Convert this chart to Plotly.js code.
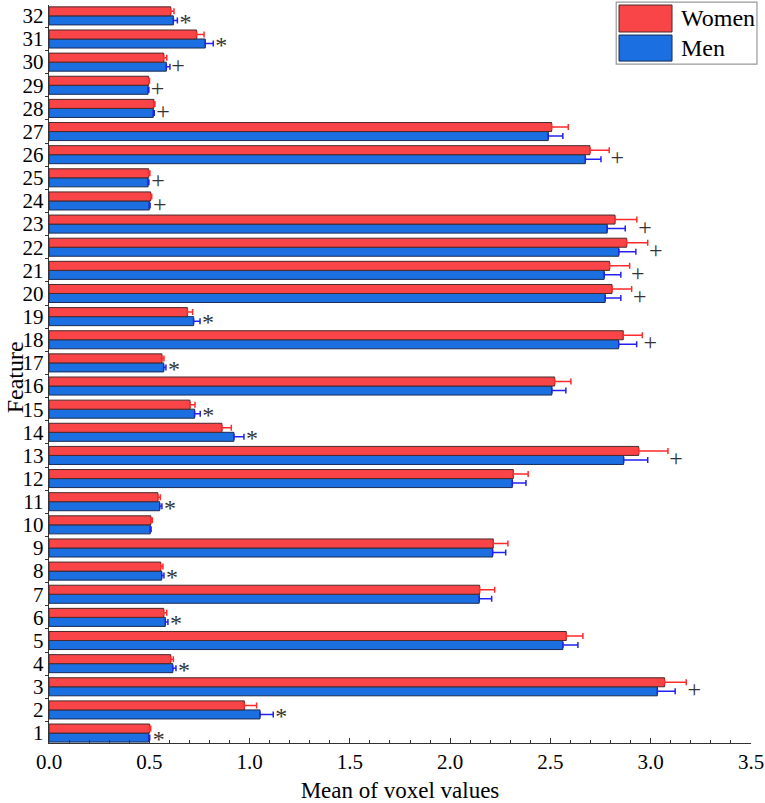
<!DOCTYPE html>
<html>
<head>
<meta charset="utf-8">
<script src="https://cdn.plot.ly/plotly-3.0.1.min.js"></script>
<style>html,body{margin:0;padding:0;background:#fff;}#chart{width:765px;height:803px;}</style>
</head>
<body>
<div id="chart"></div>
<script>
const features = [1,2,3,4,5,6,7,8,9,10,11,12,13,14,15,16,17,18,19,20,21,22,23,24,25,26,27,28,29,30,31,32];
const women = [0.502,0.974,3.069,0.607,2.579,0.572,2.147,0.557,2.215,0.508,0.543,2.315,2.940,0.862,0.703,2.521,0.563,2.863,0.690,2.807,2.795,2.880,2.822,0.507,0.497,2.697,2.506,0.523,0.497,0.572,0.736,0.607];
const womenErr = [0.005,0.061,0.108,0.013,0.083,0.015,0.075,0.011,0.073,0.007,0.012,0.074,0.146,0.047,0.025,0.081,0.010,0.095,0.026,0.098,0.100,0.105,0.109,0.005,0.006,0.096,0.083,0.005,0.004,0.015,0.037,0.016];
const men = [0.497,1.052,3.033,0.617,2.562,0.580,2.145,0.562,2.212,0.505,0.552,2.310,2.865,0.922,0.726,2.507,0.572,2.840,0.721,2.773,2.768,2.841,2.783,0.500,0.494,2.674,2.489,0.520,0.494,0.585,0.779,0.620];
const menErr = [0.005,0.066,0.089,0.016,0.075,0.013,0.062,0.011,0.065,0.004,0.011,0.068,0.120,0.050,0.028,0.070,0.011,0.090,0.032,0.078,0.083,0.085,0.090,0.004,0.004,0.078,0.073,0.005,0.004,0.018,0.040,0.020];
const sig = ['*','*','+','*','','*','','*','','','*','','+','*','*','','*','+','*','+','+','+','+','+','+','+','','+','+','+','*','*'];

const FONT = 'Liberation Serif, Times New Roman, serif';
const WOMEN_COLOR = '#F94448';
const MEN_COLOR = '#1B6FE0';

// significance marks, placed after the longer error bar, at the Men bar level
const sigX = [], sigY = [], sigT = [];
features.forEach((f, i) => {
  if (!sig[i]) return;
  const end = Math.max(women[i] + womenErr[i], men[i] + menErr[i]);
  sigX.push(end + 0.04);
  sigY.push(f - (sig[i] === '*' ? 0.34 : 0.20));
  sigT.push(sig[i]);
});

const traces = [
  {
    type: 'bar', orientation: 'h', name: 'Men',
    y: features, x: men,
    marker: {color: MEN_COLOR, line: {color: '#1a2a55', width: 1}},
    error_x: {type: 'data', array: menErr, symmetric: false, arrayminus: menErr.map(() => 0), color: '#2222EE', thickness: 1.5, width: 3},
    showlegend: false
  },
  {
    type: 'bar', orientation: 'h', name: 'Women',
    y: features, x: women,
    marker: {color: WOMEN_COLOR, line: {color: '#4a2a2a', width: 1}},
    error_x: {type: 'data', array: womenErr, symmetric: false, arrayminus: womenErr.map(() => 0), color: '#FF2A2A', thickness: 1.5, width: 3},
    showlegend: false
  },
  {
    type: 'scatter', mode: 'text', x: sigX, y: sigY, text: sigT,
    textposition: 'middle center',
    textfont: {family: FONT, size: 24, color: '#333'},
    showlegend: false, hoverinfo: 'skip'
  }
];

const layout = {
  width: 765, height: 803,
  margin: {l: 49, r: 14, t: 5, b: 60},
  paper_bgcolor: '#fff', plot_bgcolor: '#fff',
  barmode: 'group', bargap: 0.22, bargroupgap: 0,
  font: {family: FONT, color: '#000', size: 20},
  showlegend: false,
  xaxis: {
    range: [0, 3.5], dtick: 0.5, tick0: 0, tickformat: '.1f',
    showgrid: false, zeroline: false,
    showline: true, linecolor: '#333', linewidth: 1.2,
    ticks: 'inside', ticklen: 5, tickcolor: '#333',
    minor: {dtick: 0.1, ticks: 'inside', ticklen: 3, tickcolor: '#333', showgrid: false},
    tickfont: {family: FONT, size: 21, color: '#000'},
    title: {text: 'Mean of voxel values', font: {family: FONT, size: 23, color: '#000'}, standoff: 10}
  },
  yaxis: {
    range: [0.57, 32.47], tickvals: features, ticktext: features.map(String),
    showgrid: false, zeroline: false,
    showline: true, linecolor: '#333', linewidth: 1.2,
    ticks: '', ticklen: 0,
    minor: {tick0: 0.5, dtick: 1, ticks: 'outside', ticklen: 3, tickcolor: '#333', showgrid: false},
    tickfont: {family: FONT, size: 21, color: '#000'}
  },
  shapes: [
    {type: 'rect', xref: 'paper', yref: 'paper', x0: 0.808, x1: 1.0085, y0: 0.920, y1: 1.004, line: {color: '#999', width: 1.2}, fillcolor: '#fff'},
    {type: 'rect', xref: 'paper', yref: 'paper', x0: 0.812, x1: 0.8875, y0: 0.9634, y1: 1.0, line: {color: '#4a2a2a', width: 1}, fillcolor: WOMEN_COLOR},
    {type: 'rect', xref: 'paper', yref: 'paper', x0: 0.812, x1: 0.8875, y0: 0.924, y1: 0.9593, line: {color: '#1a2a55', width: 1}, fillcolor: MEN_COLOR}
  ],
  annotations: [
    {xref: 'paper', yref: 'paper', x: -0.049, y: 0.495, text: 'Feature', textangle: -90, showarrow: false, xanchor: 'center', yanchor: 'middle', borderpad: 0, font: {family: FONT, size: 24, color: '#000'}},
    {xref: 'paper', yref: 'paper', x: 0.897, y: 0.982, text: 'Women', showarrow: false, xanchor: 'left', yanchor: 'middle', font: {family: FONT, size: 24, color: '#000'}},
    {xref: 'paper', yref: 'paper', x: 0.897, y: 0.9417, text: 'Men', showarrow: false, xanchor: 'left', yanchor: 'middle', font: {family: FONT, size: 24, color: '#000'}}
  ]
};

Plotly.newPlot('chart', traces, layout, {displayModeBar: false, staticPlot: true});
</script>
</body>
</html>
